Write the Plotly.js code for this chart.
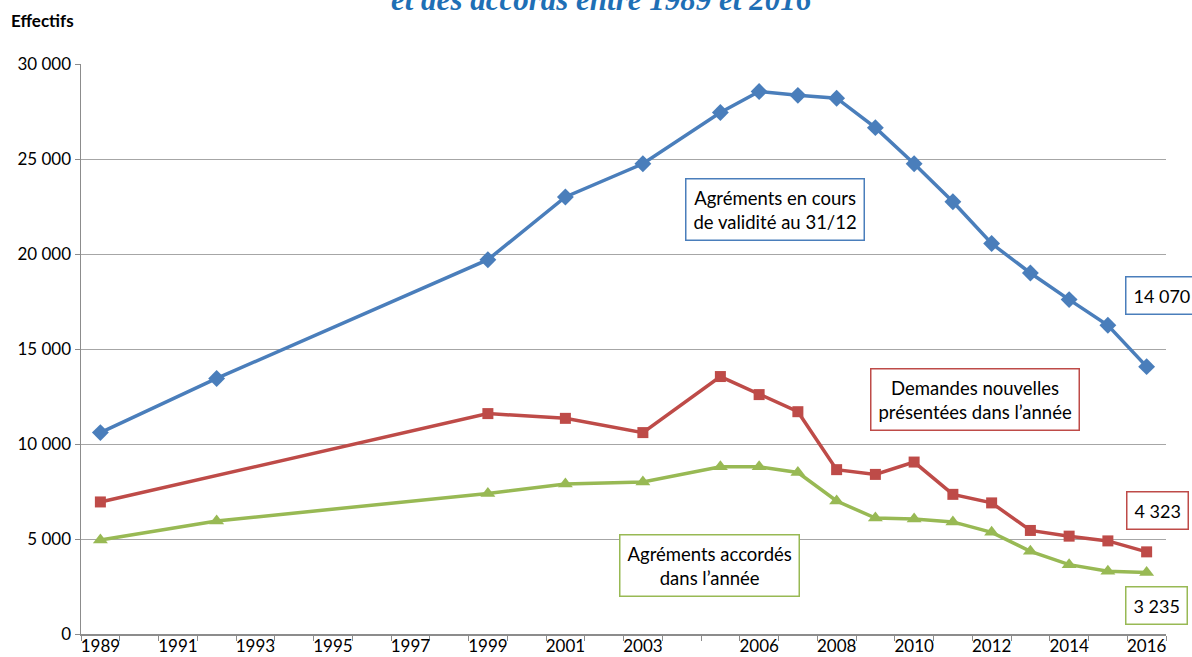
<!DOCTYPE html>
<html>
<head>
<meta charset="utf-8">
<script src="https://cdn.plot.ly/plotly-3.0.1.min.js"></script>
<style>html,body{margin:0;padding:0;background:#fff;}#chart{width:1192px;height:657px;}</style>
</head>
<body>
<div id="chart"></div>
<script>
// Years (x values)
const years = [1989, 1992, 1999, 2001, 2003, 2005, 2006, 2007, 2008, 2009, 2010, 2011, 2012, 2013, 2014, 2015, 2016];
// Agréments en cours de validité au 31/12
const agrementsEnCours = [10600, 13450, 19700, 23000, 24750, 27450, 28550, 28350, 28200, 26650, 24750, 22750, 20550, 19000, 17600, 16250, 14070];
// Demandes nouvelles présentées dans l'année (no 1992 value)
const demandesNouvelles = [6950, null, 11600, 11350, 10600, 13550, 12600, 11700, 8650, 8400, 9050, 7350, 6900, 5450, 5150, 4900, 4323];
// Agréments accordés dans l'année
const agrementsAccordes = [4950, 5950, 7400, 7900, 8000, 8800, 8800, 8500, 7000, 6100, 6050, 5900, 5350, 4350, 3650, 3300, 3235];
// X tick labels
const xTickYears = [1989, 1991, 1993, 1995, 1997, 1999, 2001, 2003, 2006, 2008, 2010, 2012, 2014, 2016];
const seriesNames = ["Agréments en cours<br>de validité au 31/12", "Demandes nouvelles<br>présentées dans l’année", "Agréments accordés<br>dans l’année"];
const lastLabels = ["14 070", "4 323", "3 235"];
const chartTitle = "et des accords entre 1989 et 2016";
const yTitle = "Effectifs";

const F = "Lato, 'Open Sans', sans-serif";
const blue = "#4A7EBB", red = "#BE4B48", green = "#98B954";

const traces = [
  {x: years, y: agrementsEnCours, mode: "lines+markers", line: {color: blue, width: 3.5},
   marker: {symbol: "diamond", size: 13, color: blue}, connectgaps: true},
  {x: years, y: demandesNouvelles, mode: "lines+markers", line: {color: red, width: 3.5},
   marker: {symbol: "square", size: 11, color: red}, connectgaps: true},
  {x: years, y: agrementsAccordes, mode: "lines+markers", line: {color: green, width: 3.5},
   marker: {symbol: "triangle-up", size: 13, color: green}, connectgaps: true}
];

function box(text, x, y, color, anchor, size) {
  return {text: text, x: x, y: y, xref: "x", yref: "y", showarrow: false,
    xanchor: anchor || "center", yanchor: "middle", align: "center",
    font: {family: F, size: size || 18.5, color: "#000"}, bordercolor: color, borderwidth: 1.5,
    borderpad: 7, bgcolor: "#fff"};
}

const layout = {
  width: 1192, height: 657,
  margin: {l: 81, r: 26, t: 64, b: 23},
  paper_bgcolor: "#fff", plot_bgcolor: "#fff",
  showlegend: false,
  separators: ", ",
  font: {family: F, size: 17, color: "#000"},
  xaxis: {
    range: [1988.5, 2016.5], tickmode: "array", tickvals: xTickYears, ticktext: xTickYears.map(String),
    ticks: "", showgrid: false, zeroline: false, ticklabelstandoff: -4,
    showline: true, linecolor: "#8C8C8C", linewidth: 1.5,
    tickfont: {family: F, size: 17, color: "#000"},
    minor: {tickmode: "linear", tick0: 1988.5, dtick: 1, ticks: "outside", ticklen: 5, tickcolor: "#8C8C8C", tickwidth: 1, showgrid: false}
  },
  yaxis: {
    range: [0, 30000], dtick: 5000, tick0: 0, tickformat: ",d",
    showgrid: true, gridcolor: "#A6A6A6", gridwidth: 1, zeroline: false,
    showline: true, linecolor: "#8C8C8C", linewidth: 1.5,
    ticks: "outside", ticklen: 5, tickcolor: "#8C8C8C",
    tickfont: {family: F, size: 17, color: "#000"}
  },
  annotations: [
    {text: "<b><i>" + chartTitle + "</i></b>", xref: "paper", yref: "paper", x: 0.48, y: 1.079,
     xanchor: "center", yanchor: "bottom", showarrow: false,
     font: {family: "'Liberation Serif', serif", size: 31, color: "#1F6FB5"}},
    {text: "<b>" + yTitle + "</b>", xref: "paper", yref: "paper", x: -0.066, y: 1.077,
     xanchor: "left", yanchor: "middle", showarrow: false,
     font: {family: F, size: 17, color: "#000"}},
    box(seriesNames[0], 2006.41, 22350, blue),
    box(seriesNames[1], 2011.57, 12340, red),
    box(seriesNames[2], 2004.73, 3580, green),
    box(lastLabels[0], 2015.44, 17800, blue, "left", 18),
    box(lastLabels[1], 2015.47, 6480, red, "left", 18),
    box(lastLabels[2], 2015.44, 1480, green, "left", 18)
  ]
};

Plotly.newPlot("chart", traces, layout, {displayModeBar: false, staticPlot: true});
</script>
</body>
</html>
